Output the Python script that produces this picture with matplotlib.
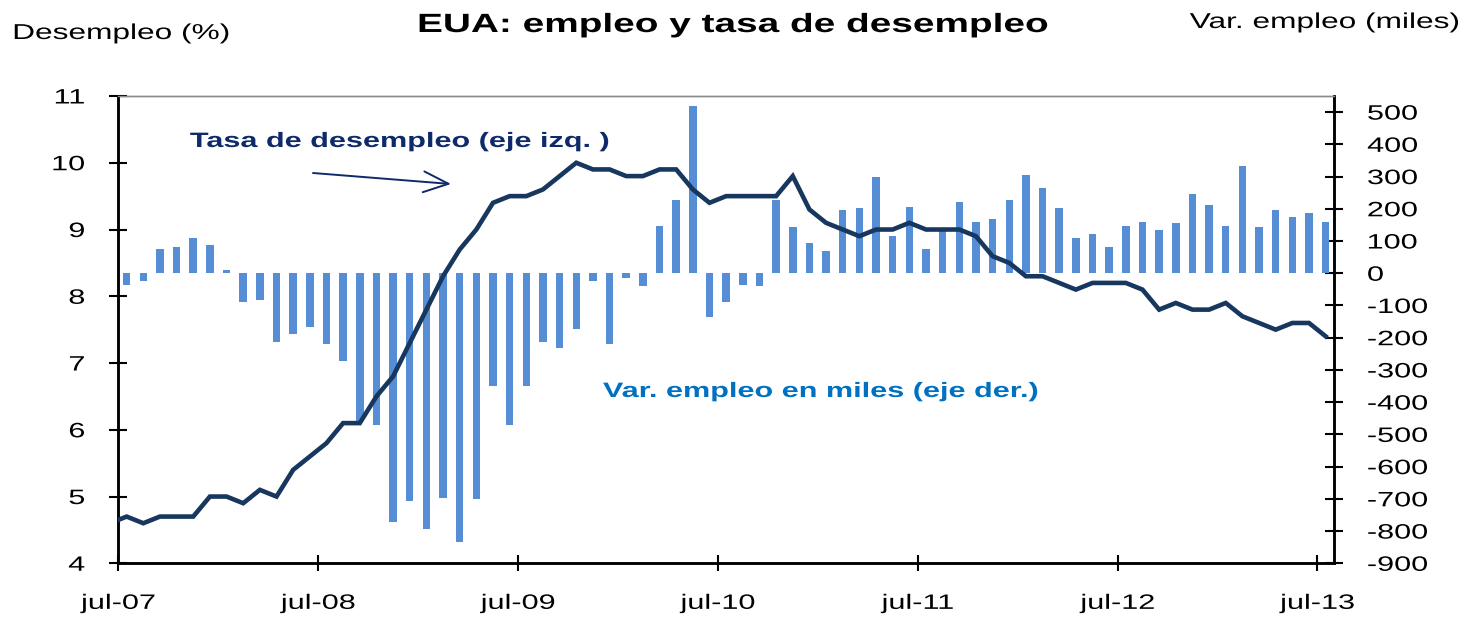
import matplotlib
matplotlib.use("Agg")
import matplotlib.pyplot as plt
import numpy as np
from matplotlib.patheffects import AbstractPathEffect
from matplotlib.transforms import Affine2D

# ---------------- data ----------------
# monthly change in employment (thousands), jul-07 ... jul-13
empleo = [-35, -23, 76, 83, 109, 89, 10, -88, -83, -214, -188, -168,
          -220, -273, -458, -471, -773, -708, -794, -696, -833, -701, -351, -470,
          -351, -214, -233, -173, -23, -219, -14, -41, 148, 228, 518, -135,
          -88, -35, -41, 228, 143, 94, 68, 195, 202, 300, 115, 207,
          76, 133, 220, 160, 169, 228, 305, 266, 201, 109, 122, 83,
          148, 160, 135, 155, 246, 213, 148, 332, 142, 195, 174, 187,
          160]
# unemployment rate (%), jun-07 ... jul-13
desempleo = [4.6,
             4.7, 4.6, 4.7, 4.7, 4.7, 5.0,
             5.0, 4.9, 5.1, 5.0, 5.4, 5.6, 5.8, 6.1, 6.1, 6.5, 6.8, 7.3,
             7.8, 8.3, 8.7, 9.0, 9.4, 9.5, 9.5, 9.6, 9.8, 10.0, 9.9, 9.9,
             9.8, 9.8, 9.9, 9.9, 9.6, 9.4, 9.5, 9.5, 9.5, 9.5, 9.8, 9.3,
             9.1, 9.0, 8.9, 9.0, 9.0, 9.1, 9.0, 9.0, 9.0, 8.9, 8.6, 8.5,
             8.3, 8.3, 8.2, 8.1, 8.2, 8.2, 8.2, 8.1, 7.8, 7.9, 7.8, 7.8,
             7.9, 7.7, 7.6, 7.5, 7.6, 7.6, 7.4]
xtick_labels = ["jul-07", "jul-08", "jul-09", "jul-10", "jul-11", "jul-12", "jul-13"]
left_ticks = [4, 5, 6, 7, 8, 9, 10, 11]
right_ticks = list(range(-900, 501, 100))

title = "EUA: empleo y tasa de desempleo"
left_label = "Desempleo (%)"
right_label = "Var. empleo (miles)"
ann_line = "Tasa de desempleo (eje izq. )"
ann_bars = "Var. empleo en miles (eje der.)"

# ---------------- style ----------------
BAR = "#558ED5"
LINE = "#17375E"
NAVY = "#0E2A6A"
BLUE = "#0070C0"
FONT = "Liberation Sans"
SX = 1.47


class HStretch(AbstractPathEffect):
    """Horizontally widen glyphs (the reference text is stretched)."""
    def __init__(self, sx=SX, anchor="center"):
        super().__init__()
        self.sx = sx
        self.anchor = anchor

    def draw_path(self, renderer, gc, tpath, affine, rgbFace=None):
        ext = tpath.get_extents()
        if self.anchor == "left":
            cx = ext.x0
        elif self.anchor == "right":
            cx = ext.x1
        else:
            cx = 0.5 * (ext.x0 + ext.x1)
        tr = Affine2D().translate(-cx, 0).scale(self.sx, 1).translate(cx, 0) + affine
        renderer.draw_path(gc, tpath, tr, rgbFace)


W, H = 1466, 617
fig = plt.figure(figsize=(W / 100, H / 100), dpi=100)
L, R, T, B = 118.3, 1334, 96, 563.3
ax = fig.add_axes([L / W, 1 - B / H, (R - L) / W, (B - T) / H])
ax2 = ax.twinx()

n = len(empleo)
bar_x = np.arange(n) + 0.5
line_x = np.arange(len(desempleo)) - 0.5

ax2.bar(bar_x, empleo, width=0.45, color=BAR, zorder=2)
ax.plot(line_x, desempleo, color=LINE, lw=3.3, solid_joinstyle="miter", zorder=3)

ax.set_zorder(ax2.get_zorder() + 1)
ax.patch.set_visible(False)

ax.set_xlim(0, n)
ax.set_ylim(4, 11)
ax2.set_ylim(-900, 550)

ax.set_xticks(np.arange(0, n, 12), labels=xtick_labels)
ax.set_yticks(left_ticks, labels=[str(v) for v in left_ticks])
ax2.set_yticks(right_ticks, labels=[str(v) for v in right_ticks])

for a in (ax, ax2):
    for s in a.spines.values():
        s.set_linewidth(1.8)
        s.set_color("black")
    a.spines["top"].set_color("#8C8C8C")
    a.spines["top"].set_linewidth(1.0)

ax.tick_params(axis="x", direction="inout", length=11, width=1.5, pad=16.5,
               labelsize=15, labelfontfamily=FONT)
ax.tick_params(axis="y", direction="inout", length=13, width=1.5, pad=17.5,
               labelsize=15, labelfontfamily=FONT)
ax2.tick_params(axis="y", direction="inout", length=13, width=1.5, pad=17.5,
                labelsize=15, labelfontfamily=FONT)

for t in ax.get_xticklabels():
    t.set_path_effects([HStretch(anchor="center")])
for t in ax.get_yticklabels():
    t.set_path_effects([HStretch(anchor="right")])
for t in ax2.get_yticklabels():
    t.set_path_effects([HStretch(anchor="left")])


def ftext(px, py, s, ha, anchor, **kw):
    t = fig.text(px / W, 1 - py / H, s, ha=ha, va="baseline", family=FONT, **kw)
    t.set_path_effects([HStretch(anchor=anchor)])
    return t


ftext(733, 32, title, "center", "center", fontsize=19, fontweight="bold",
      color="black")
ftext(13, 39, left_label, "left", "left", fontsize=15.5, color="black")
ftext(1459, 28, right_label, "right", "right", fontsize=15.5, color="black")
ftext(190, 147, ann_line, "left", "left", fontsize=15, fontweight="bold", color=NAVY)
ftext(603, 397, ann_bars, "left", "left", fontsize=15, fontweight="bold", color=BLUE)

# arrow pointing at the unemployment line
ax.annotate("", xy=((451 - L) / (R - L) * n, 4 + (B - 184) / (B - T) * 7),
            xytext=((313 - L) / (R - L) * n, 4 + (B - 173) / (B - T) * 7),
            arrowprops=dict(arrowstyle="->,head_length=0.6,head_width=0.25",
                            color=NAVY, lw=1.4, mutation_scale=30,
                            shrinkA=0, shrinkB=0))

fig.savefig("out.png", dpi=100)
